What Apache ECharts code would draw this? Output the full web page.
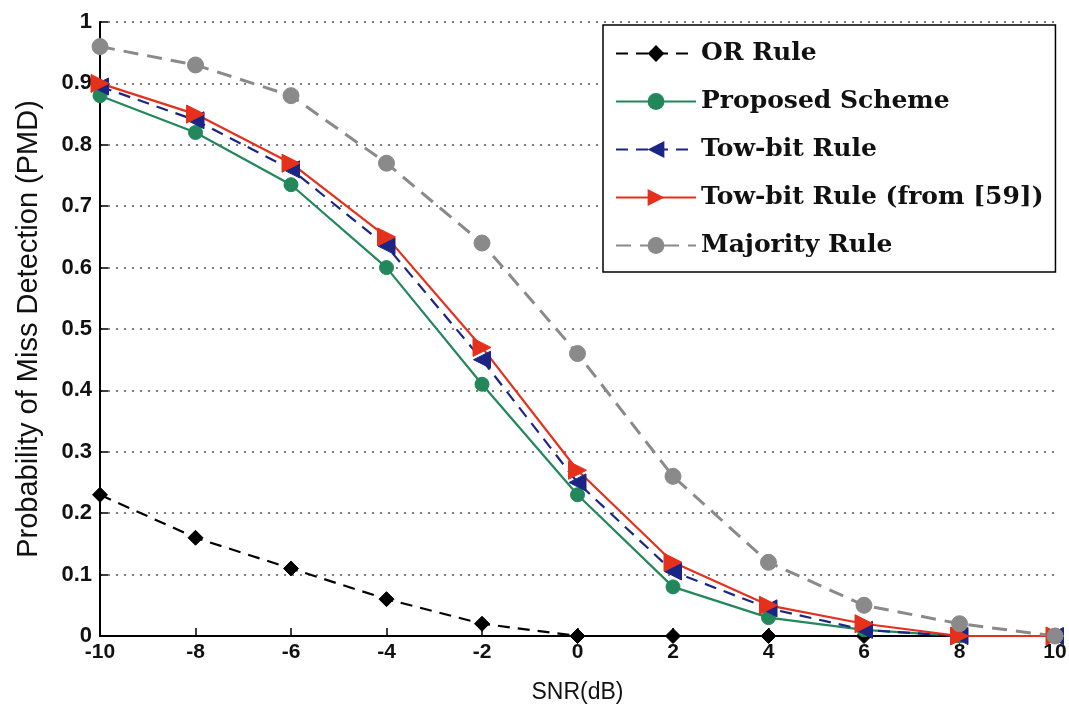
<!DOCTYPE html>
<html>
<head>
    <meta charset="utf-8">
    <style>
        html, body { margin: 0; padding: 0; background: #fff; }
        #main { width: 1069px; height: 708px; }
    </style>
    <script src="https://cdn.jsdelivr.net/npm/echarts@6/dist/echarts.min.js"></script>
</head>
<body>
    <div id="main"></div>
    <script type="text/javascript">
        // SNR values (dB)
        var snr = [-10, -8, -6, -4, -2, 0, 2, 4, 6, 8, 10];

        // PMD
        var orRule   = [0.23, 0.16, 0.11, 0.06, 0.02, 0, 0, 0, 0, 0, 0];
        var proposed = [0.88, 0.82, 0.735, 0.60, 0.41, 0.23, 0.08, 0.03, 0.01, 0, 0];
        var towBit   = [0.895, 0.84, 0.76, 0.635, 0.45, 0.25, 0.105, 0.045, 0.01, 0, 0];
        var towBit59 = [0.90, 0.85, 0.77, 0.65, 0.47, 0.27, 0.12, 0.05, 0.02, 0, 0];
        var majority = [0.96, 0.93, 0.88, 0.77, 0.64, 0.46, 0.26, 0.12, 0.05, 0.02, 0];

        function pairs(ys) {
            return snr.map(function (x, i) { return [x, ys[i]]; });
        }

        function mk(name, data, color, dash, width, symbol, size, rotate) {
            return {
                name: name,
                type: 'line',
                data: pairs(data),
                symbol: symbol,
                symbolSize: size,
                symbolRotate: rotate || 0,
                showAllSymbol: true,
                z: 3,
                lineStyle: { color: color, width: width, type: dash || 'solid' },
                itemStyle: { color: color, borderColor: color },
                emphasis: { disabled: true }
            };
        }

        var myChart = echarts.init(document.getElementById('main'));
        var option = {
            backgroundColor: '#fff',
            animation: false,
            grid: { left: 100, right: 14, top: 22, bottom: 72, containLabel: false, outerBoundsMode: 'none' },
            legend: {
                orient: 'vertical',
                left: 603,
                top: 25,
                padding: [16, 12, 14, 12],
                itemGap: 23,
                itemWidth: 80,
                itemHeight: 21,
                backgroundColor: '#fff',
                borderColor: '#000',
                borderWidth: 1.5,
                z: 10,
                textStyle: { fontFamily: 'DejaVu Serif', fontWeight: 'bold', fontSize: 25, color: '#111' },
                data: ['OR Rule', 'Proposed Scheme', 'Tow-bit Rule', 'Tow-bit Rule (from [59])', 'Majority Rule']
            },
            xAxis: {
                type: 'value',
                min: -10, max: 10, interval: 2,
                name: 'SNR(dB)',
                nameLocation: 'middle',
                nameGap: 45,
                nameTextStyle: { fontFamily: 'Liberation Sans', fontSize: 23, color: '#111' },
                axisLine: { onZero: false, lineStyle: { color: '#000', width: 2 } },
                axisTick: { inside: true, length: 8, lineStyle: { color: '#000', width: 1.5 } },
                axisLabel: { fontFamily: 'Liberation Sans', fontWeight: 'bold', fontSize: 21, color: '#111', margin: 6 },
                splitLine: { show: false }
            },
            yAxis: {
                type: 'value',
                min: 0, max: 1, interval: 0.1,
                name: 'Probability of Miss Detection (PMD)',
                nameLocation: 'middle',
                nameGap: 57,
                nameTextStyle: { fontFamily: 'Liberation Sans', fontSize: 29, color: '#111' },
                axisLine: { show: true, onZero: false, lineStyle: { color: '#000', width: 2 } },
                axisTick: { inside: true, length: 8, lineStyle: { color: '#000', width: 1.5 } },
                axisLabel: {
                    fontFamily: 'Liberation Sans', fontWeight: 'bold', fontSize: 22, color: '#111', margin: 8,
                    formatter: function (v) {
                        if (Math.abs(v) < 1e-9) return '0';
                        if (Math.abs(v - 1) < 1e-9) return '1';
                        return v.toFixed(1);
                    }
                },
                splitLine: { show: true, lineStyle: { color: '#555', width: 1.5, type: [2, 6] } }
            },
            series: [
                mk('OR Rule', orRule, '#000000', [12, 8], 2.2, 'diamond', 15),
                mk('Proposed Scheme', proposed, '#22875a', null, 2.2, 'circle', 14),
                mk('Tow-bit Rule', towBit, '#1b2585', [12, 8], 2.2, 'triangle', 17, 90),
                mk('Tow-bit Rule (from [59])', towBit59, '#e5301c', null, 2.2, 'triangle', 18, -90),
                mk('Majority Rule', majority, '#8a8a8a', [15, 9], 3, 'circle', 16)
            ]
        };
        myChart.setOption(option);
    </script>
</body>
</html>
